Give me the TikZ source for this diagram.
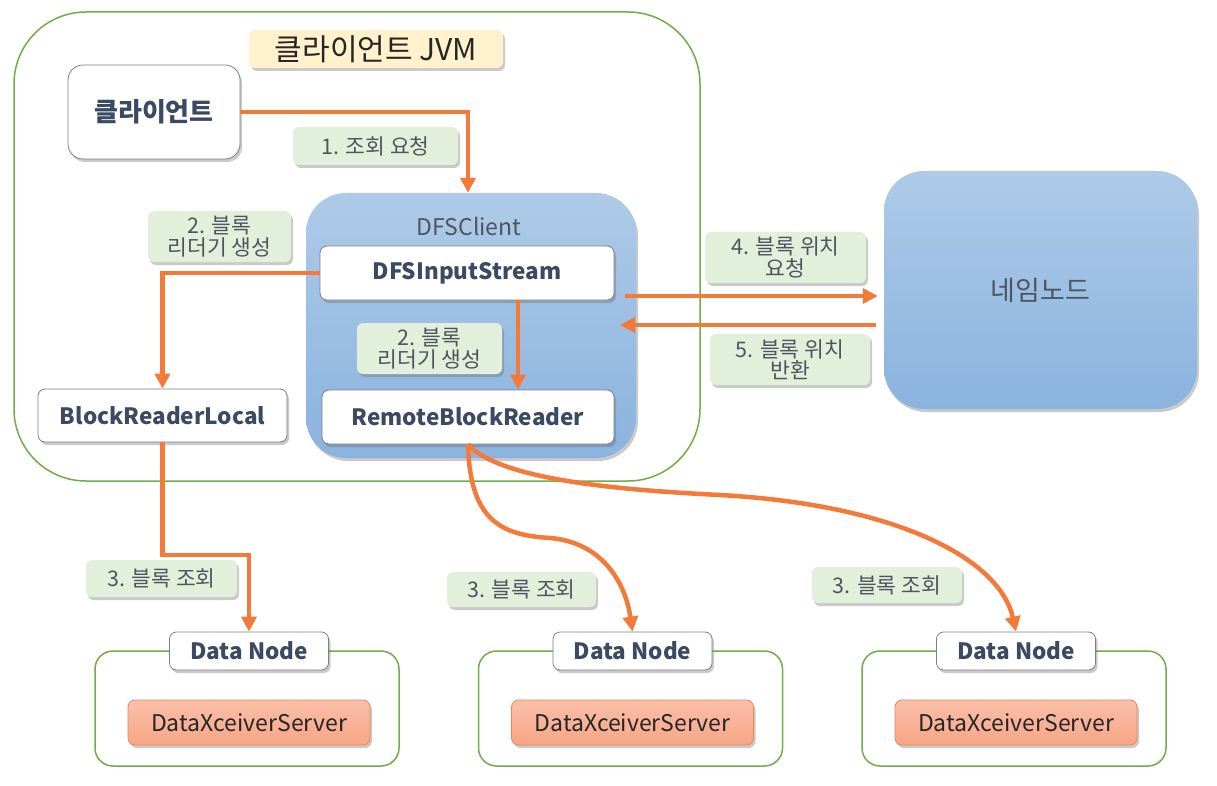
\documentclass[tikz,border=0pt]{standalone}
\usepackage{fontspec}
\setmainfont{Noto Sans CJK KR}
\usetikzlibrary{arrows.meta,shadows,calc}
\definecolor{jvmgreen}{HTML}{70AD47}
\definecolor{arrorange}{HTML}{F47A3A}
\definecolor{lblgreen}{HTML}{E2EFDA}
\definecolor{titleyel}{HTML}{FFF2CC}
\definecolor{boxtext}{HTML}{3B4A62}
\definecolor{lbltext}{HTML}{4F5560}
\definecolor{bluetop}{HTML}{AECAE8}
\definecolor{bluebot}{HTML}{8AB3DF}
\definecolor{saltop}{HTML}{FAC0AA}
\definecolor{salbot}{HTML}{F8A586}
\definecolor{saledge}{HTML}{F08556}
\definecolor{boxedge}{HTML}{7F7F7F}
\begin{document}
\begin{tikzpicture}[x=1pt,y=-1pt,
  sz/.style 2 args={minimum width=#1pt,minimum height=#2pt,inner sep=0pt},
  shad/.style={drop shadow={shadow xshift=2pt,shadow yshift=-3pt,opacity=0.35,fill=black!60}},
  wbox/.style={draw=boxedge,line width=0.8pt,fill=white,rounded corners=7pt,shad,
    text=boxtext,font=\fontsize{22.5}{26}\selectfont\bfseries},
  lbl/.style={fill=lblgreen,rounded corners=6pt,shad,text=lbltext,align=center,
    font=\fontsize{21.5}{21.5}\selectfont},
  bluebox/.style={top color=bluetop,bottom color=bluebot,rounded corners=40pt,shad},
  group/.style={draw=jvmgreen,line width=1.5pt,rounded corners=18pt},
  dxs/.style={draw=saledge,line width=0.8pt,top color=saltop,bottom color=salbot,
    rounded corners=7pt,shad,text=black!85,font=\fontsize{23}{27}\selectfont},
  arr/.style={draw=arrorange,line width=4.5pt,-{Triangle[width=15pt,length=15pt]}}
]
\useasboundingbox (0,0) rectangle (1217,786);

% client JVM
\node[group,rounded corners=72pt,sz={686}{469}] (jvm) at (357,246.5) {};
\node[fill=titleyel,rounded corners=6pt,shad,sz={254}{38},
  font=\fontsize{30}{34}\selectfont,text=black!85] (jvmtitle) at (376,49) {클라이언트 JVM};
\node[wbox,rounded corners=15pt,sz={172}{94},font=\fontsize{26}{30}\selectfont\bfseries] (client) at (154,112) {클라이언트};
\node[lbl,sz={165}{38}] (l1) at (375.5,146) {1. 조회 요청};

% DFSClient
\node[bluebox,sz={330}{265}] (dfsclient) at (471,325.5) {};
\node[text=lbltext,font=\fontsize{23}{27}\selectfont] (dfstitle) at (469,226) {DFSClient};
\node[wbox,sz={294}{54}] (dfsin) at (467,273) {DFSInputStream};
\node[wbox,sz={292}{54}] (rbr) at (468,417) {RemoteBlockReader};
\node[lbl,sz={143}{51}] (l2a) at (219.5,236.5) {2. 블록\\리더기 생성};
\node[lbl,sz={145}{51}] (l2b) at (429.5,348.5) {2. 블록\\리더기 생성};
\node[wbox,sz={249}{53}] (brl) at (162.5,415.5) {BlockReaderLocal};

% NameNode
\node[bluebox,sz={313}{238},text=lbltext,font=\fontsize{27}{31}\selectfont] (nn) at (1040.5,290) {네임노드};
\node[lbl,sz={161}{51}] (l4) at (785.5,257.5) {4. 블록 위치\\요청};
\node[lbl,sz={160}{51}] (l5) at (790,359.5) {5. 블록 위치\\반환};

% data nodes
\foreach \i/\cx in {1/247,2/630.5,3/1014}{
  \node[group,fill=white,sz={304}{115}] (dn\i) at (\cx,708.5) {};
  \node[wbox,sz={159}{38}] (dnh\i) at (\cx+2,651) {Data Node};
  \node[dxs,sz={242}{45}] (dxs\i) at (\cx+2,722.5) {DataXceiverServer};
}
\node[lbl,sz={151}{37}] (l3a) at (161.5,578.5) {3. 블록 조회};
\node[lbl,sz={149}{35}] (l3b) at (521.5,589.5) {3. 블록 조회};
\node[lbl,sz={150}{36}] (l3c) at (887,585) {3. 블록 조회};

% helper coordinates
\coordinate (k1) at (468,0);
\coordinate (k2) at (518,0);
\coordinate (s4) at (625,296);
\coordinate (e5) at (620,325);
\coordinate (m3) at (0,555);

% connectors
\draw[arr] (client.east) -| (dfsclient.north -| k1);
\draw[arr] (dfsin.west) -| (brl.north);
\draw[arr] (dfsin.south -| k2) -- (rbr.north -| k2);
\draw[arr,shorten >=6pt] (s4) -- (s4 -| nn.west);
\draw[arr,shorten <=8pt] (e5 -| nn.west) -- (e5);
\draw[arr] (brl.south) |- (m3 -| dnh1.north) -- (dnh1.north);
\draw[arr] (rbr.south) .. controls (470,520) and (500,535) .. (550,538)
  .. controls (600,542) and (625,580) .. (dnh2.north);
\draw[arr] (rbr.south) .. controls (500,480) and (620,490) .. (720,495)
  .. controls (900,505) and (1000,560) .. (dnh3.north);
\end{tikzpicture}
\end{document}
